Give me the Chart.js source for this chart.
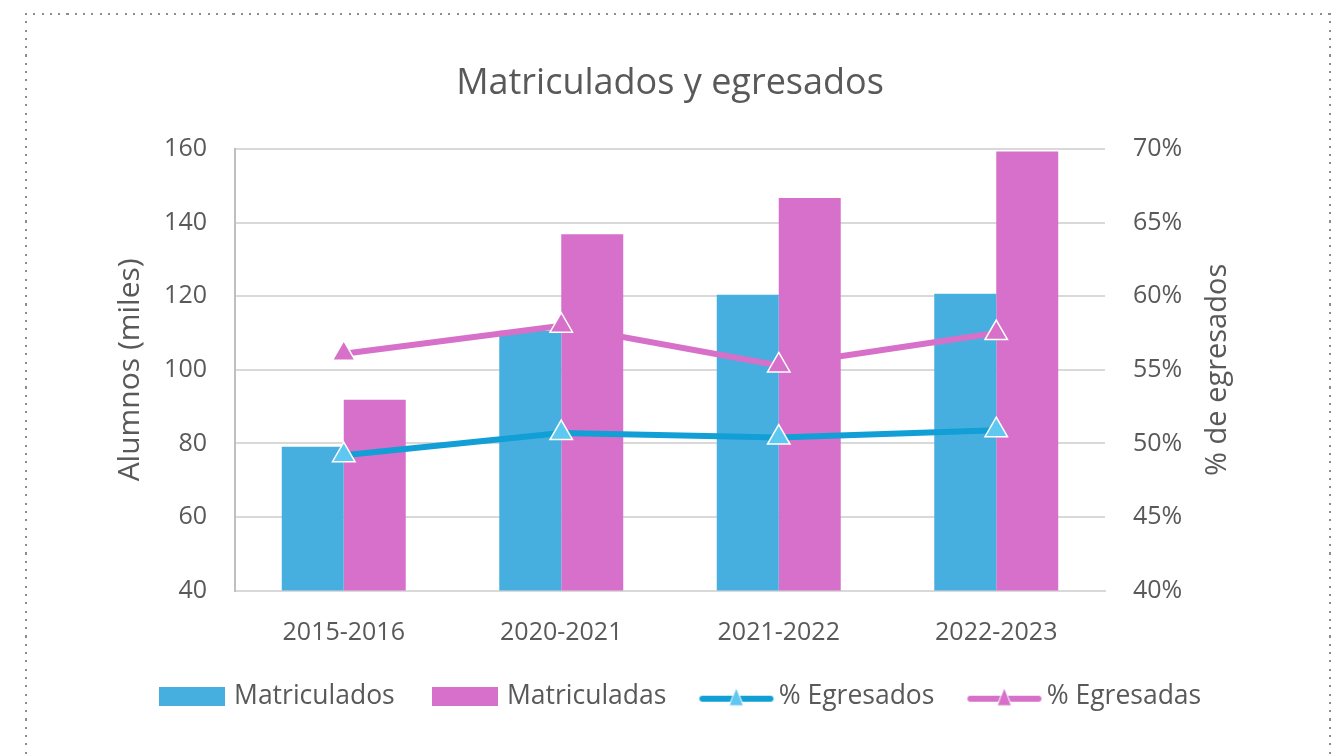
<!DOCTYPE html>
<html lang="es">
<head>
    <meta charset="UTF-8">
    <title>Matriculados y egresados</title>
    <script src="https://cdn.jsdelivr.net/npm/chart.js"></script>
    <style>
        body {
            margin: 0;
            padding: 0;
            background: #ffffff;
            overflow: hidden;
        }
        #wrap {
            position: relative;
            width: 1340px;
            height: 754px;
        }
        #chart {
            position: absolute;
            left: 0;
            top: 0;
        }
        .dots-h {
            position: absolute;
            height: 2px;
            background: repeating-linear-gradient(to right, #8c8c8c 0 2px, transparent 2px 8.3px);
        }
        .dots-v {
            position: absolute;
            width: 2px;
            background: repeating-linear-gradient(to bottom, #8c8c8c 0 2px, transparent 2px 8.3px);
        }
    </style>
</head>
<body>
<div id="wrap">
    <canvas id="chart" width="1340" height="754"></canvas>
    <div class="dots-h" style="left:25px; top:13px; width:1306px;"></div>
    <div class="dots-v" style="left:25px; top:13px; height:745px;"></div>
    <div class="dots-v" style="left:1329px; top:13px; height:745px;"></div>
</div>
<script>
    // datos
    const periodos = ['2015-2016', '2020-2021', '2021-2022', '2022-2023'];
    const matriculados = [79.1, 110.6, 120.4, 120.7];
    const matriculadas = [91.9, 136.9, 146.7, 159.4];
    const pctEgresados = [49.2, 50.7, 50.4, 50.9];
    const pctEgresadas = [56.1, 58.0, 55.3, 57.5];

    const azulBarra = '#47afdf';
    const rosaBarra = '#d670cb';
    const azulLinea = '#129fd6';
    const azulPunto = '#5fc8f0';
    const rosaLinea = '#d670c9';
    const gris = '#595959';
    const fuente = "'Open Sans', 'Noto Sans', sans-serif";

    // iconos de la leyenda
    function iconoBarra(color) {
        const c = document.createElement('canvas');
        c.width = 66; c.height = 19;
        const x = c.getContext('2d');
        x.fillStyle = color;
        x.fillRect(0, 0, 66, 19);
        return c;
    }

    function iconoLinea(colorLinea, colorPunto) {
        const c = document.createElement('canvas');
        c.width = 76; c.height = 22;
        const x = c.getContext('2d');
        x.strokeStyle = colorLinea;
        x.lineWidth = 6;
        x.lineCap = 'round';
        x.beginPath();
        x.moveTo(4, 13);
        x.lineTo(72, 13);
        x.stroke();
        x.fillStyle = colorPunto;
        x.strokeStyle = '#ffffff';
        x.lineWidth = 1;
        x.beginPath();
        x.moveTo(38, 2);
        x.lineTo(45, 20);
        x.lineTo(31, 20);
        x.closePath();
        x.fill();
        x.stroke();
        return c;
    }

    const iconos = [
        iconoBarra(azulBarra),
        iconoBarra(rosaBarra),
        iconoLinea(azulLinea, azulPunto),
        iconoLinea(rosaLinea, rosaLinea)
    ];

    // titulo del eje derecho, leido de abajo hacia arriba
    const tituloDerecho = {
        id: 'tituloDerecho',
        afterDraw(chart) {
            const ctx = chart.ctx;
            const area = chart.chartArea;
            ctx.save();
            ctx.translate(1218, (area.top + area.bottom) / 2);
            ctx.rotate(-Math.PI / 2);
            ctx.font = '29px ' + fuente;
            ctx.fillStyle = gris;
            ctx.textAlign = 'center';
            ctx.textBaseline = 'middle';
            ctx.fillText('% de egresados', 0, 0);
            ctx.restore();
        }
    };

    // la leyenda del original esta algo corrida a la derecha
    const correrLeyenda = {
        id: 'correrLeyenda',
        afterLayout(chart) {
            if (chart.legend) {
                chart.legend.left += 12;
                chart.legend.right += 12;
            }
        }
    };

    const fondo = {
        id: 'fondo',
        beforeDraw(chart) {
            const ctx = chart.ctx;
            ctx.save();
            ctx.fillStyle = '#ffffff';
            ctx.fillRect(0, 0, chart.width, chart.height);
            ctx.restore();
        }
    };

    new Chart(document.getElementById('chart').getContext('2d'), {
        data: {
            labels: periodos,
            datasets: [
                {
                    type: 'bar',
                    label: 'Matriculados',
                    data: matriculados,
                    backgroundColor: azulBarra,
                    yAxisID: 'y',
                    order: 2,
                    categoryPercentage: 0.57,
                    barPercentage: 1
                },
                {
                    type: 'bar',
                    label: 'Matriculadas',
                    data: matriculadas,
                    backgroundColor: rosaBarra,
                    yAxisID: 'y',
                    order: 2,
                    categoryPercentage: 0.57,
                    barPercentage: 1
                },
                {
                    type: 'line',
                    label: '% Egresados',
                    data: pctEgresados,
                    borderColor: azulLinea,
                    borderWidth: 6,
                    backgroundColor: azulPunto,
                    pointStyle: 'triangle',
                    pointRadius: 13,
                    pointBackgroundColor: azulPunto,
                    pointBorderColor: '#ffffff',
                    pointBorderWidth: 1.5,
                    yAxisID: 'y1',
                    order: 1,
                    tension: 0
                },
                {
                    type: 'line',
                    label: '% Egresadas',
                    data: pctEgresadas,
                    borderColor: rosaLinea,
                    borderWidth: 6,
                    backgroundColor: rosaLinea,
                    pointStyle: 'triangle',
                    pointRadius: 13,
                    pointBackgroundColor: rosaLinea,
                    pointBorderColor: '#ffffff',
                    pointBorderWidth: 1.5,
                    yAxisID: 'y1',
                    order: 1,
                    tension: 0
                }
            ]
        },
        options: {
            responsive: false,
            animation: false,
            events: [],
            layout: { padding: { left: 0, right: 0, top: 0, bottom: 34 } },
            plugins: {
                title: {
                    display: true,
                    text: 'Matriculados y egresados',
                    color: gris,
                    font: { family: fuente, size: 36, weight: 'normal' },
                    padding: { top: 62, bottom: 44 }
                },
                legend: {
                    position: 'bottom',
                    labels: {
                        color: gris,
                        font: { family: fuente, size: 26.5 },
                        usePointStyle: true,
                        pointStyleWidth: 58,
                        boxHeight: 22,
                        padding: 41,
                        generateLabels(chart) {
                            const base = Chart.defaults.plugins.legend.labels.generateLabels(chart);
                            base.sort((a, b) => a.datasetIndex - b.datasetIndex);
                            base.forEach(item => {
                                item.pointStyle = iconos[item.datasetIndex];
                                item.lineWidth = 0;
                            });
                            return base;
                        }
                    }
                },
                tooltip: { enabled: false }
            },
            scales: {
                x: {
                    grid: { display: false },
                    border: { display: true, color: '#d9d9d9', width: 2 },
                    ticks: {
                        color: gris,
                        font: { family: fuente, size: 25 },
                        padding: 19
                    },
                    afterFit(scale) { scale.height = 52; }
                },
                y: {
                    position: 'left',
                    min: 40,
                    max: 160,
                    ticks: {
                        stepSize: 20,
                        color: gris,
                        font: { family: fuente, size: 25 },
                        padding: 28
                    },
                    grid: { color: '#d9d9d9', lineWidth: 2, drawTicks: false },
                    border: { display: true, color: '#bfbfbf', width: 2 },
                    title: {
                        display: true,
                        text: 'Alumnos (miles)',
                        color: gris,
                        font: { family: fuente, size: 30 },
                        padding: { top: 112, bottom: 0 }
                    },
                    afterFit(scale) { scale.width = 235; }
                },
                y1: {
                    position: 'right',
                    min: 40,
                    max: 70,
                    ticks: {
                        stepSize: 5,
                        color: gris,
                        font: { family: fuente, size: 25 },
                        padding: 28,
                        callback: v => v + '%'
                    },
                    grid: { drawOnChartArea: false, drawTicks: false },
                    border: { display: false },
                    afterFit(scale) { scale.width = 235; }
                }
            }
        },
        plugins: [fondo, tituloDerecho, correrLeyenda]
    });
</script>
</body>
</html>
